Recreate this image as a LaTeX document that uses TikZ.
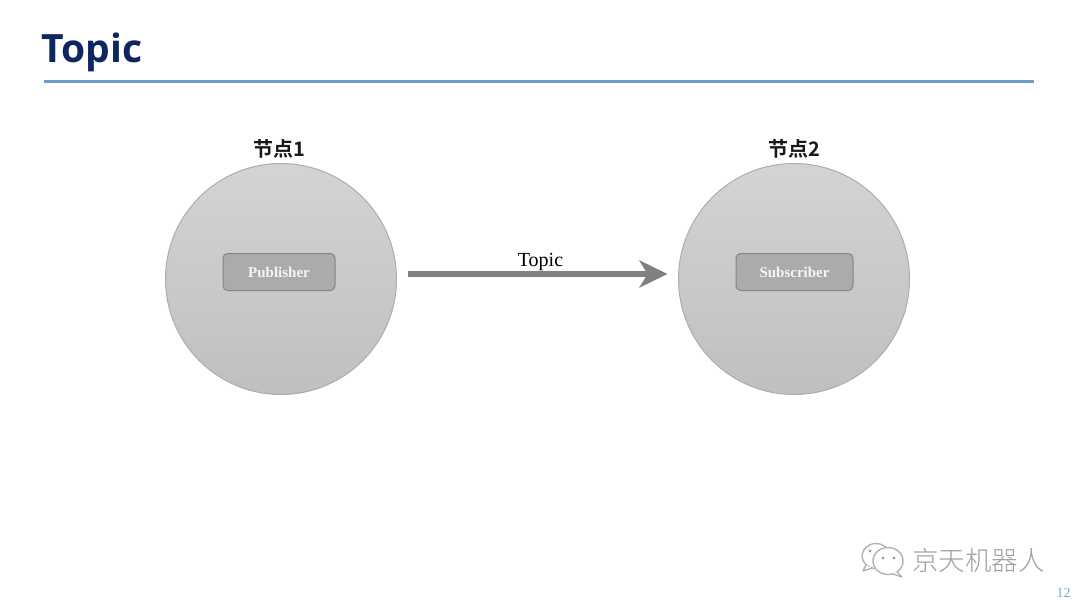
\documentclass[tikz,border=0pt]{standalone}
\usepackage{fontspec}
\setmainfont{Liberation Serif}
\newfontfamily\titlef{Open Sans}
\newfontfamily\cjkb{Noto Sans CJK SC}[BoldFont={Noto Sans CJK SC Bold}]
\newfontfamily\cjkl{Noto Sans CJK SC Light}
\usetikzlibrary{arrows.meta,shadings}
\definecolor{titleblue}{HTML}{0F2660}
\definecolor{rulecol}{HTML}{6E9CCB}
\definecolor{pagecol}{HTML}{7FA9C9}
\definecolor{wmark}{HTML}{A0A0A0}
\tikzset{
  x=1pt,y=-1pt,
  bigdisc/.style={circle,draw=black!32,line width=1pt,minimum size=231pt,inner sep=0pt,top color=black!17,bottom color=black!25},
  rolebox/.style={rounded corners=4.5pt,draw=black!48,line width=1pt,fill=black!33,minimum height=37pt,inner sep=0pt,text=black!4,font=\fontsize{15}{15}\selectfont\bfseries},
  nodelabel/.style={inner sep=0pt,font=\fontsize{20}{20}\selectfont\cjkb\bfseries,text=black!90},
  flow/.style={draw=black!50,line width=5.5pt,-{Stealth[length=28pt,width=27pt,inset=8pt,fill=black!50]}},
  bubble/.style={draw=black!30,line width=1.4pt,fill=white,line join=round},
}
\begin{document}
\begin{tikzpicture}
\useasboundingbox (0,0) rectangle (1080,608);
\fill[white] (0,0) rectangle (1080,608);
\node[inner sep=0pt,text=titleblue,font=\fontsize{39}{39}\selectfont\titlef\bfseries] (title) at (92,52.5) {Topic};
\coordinate (ruleL) at (44,81.5);
\coordinate (ruleR) at (1034,81.5);
\draw[rulecol,line width=3pt] (ruleL) -- (ruleR);

\node[bigdisc] (c1) at (281,279) {};
\node[bigdisc] (c2) at (794,279) {};
\node[nodelabel] (l1) at (279,148.5) {节点1};
\node[nodelabel] (l2) at (794.5,148.5) {节点2};
\node[rolebox,minimum width=112pt] (pub) at (279,272) {Publisher};
\node[rolebox,minimum width=117pt] (sub) at (794.5,272) {Subscriber};
\draw[flow,shorten <=11pt,shorten >=10.5pt] ([yshift=5pt]c1.east) -- ([yshift=5pt]c2.west);
\node[inner sep=0pt,font=\fontsize{20}{20}\selectfont] (topic) at (540.5,262) {Topic};

% watermark
\draw[bubble] (876,556) ellipse [x radius=14,y radius=12.5];
\draw[bubble] (866,565) -- (863,571) -- (872,568);
\fill[wmark] (870,551) circle (1.6) (881,551) circle (1.6);
\draw[bubble] (888,561) ellipse [x radius=15,y radius=13.5];
\draw[bubble] (897,572) -- (902,577) -- (893,574);
\draw[white,line width=1.8pt] (896,571) -- (893,572.5);
\fill[wmark] (883,558) circle (1.6) (894,558) circle (1.6);
\node[inner sep=0pt,text=wmark,font=\fontsize{26.5}{26.5}\selectfont\cjkl] (wm) at (978.5,560) {京天机器人};
\node[inner sep=0pt,text=pagecol,font=\fontsize{14}{14}\selectfont] (pg) at (1063.5,593) {12};
\end{tikzpicture}
\end{document}
